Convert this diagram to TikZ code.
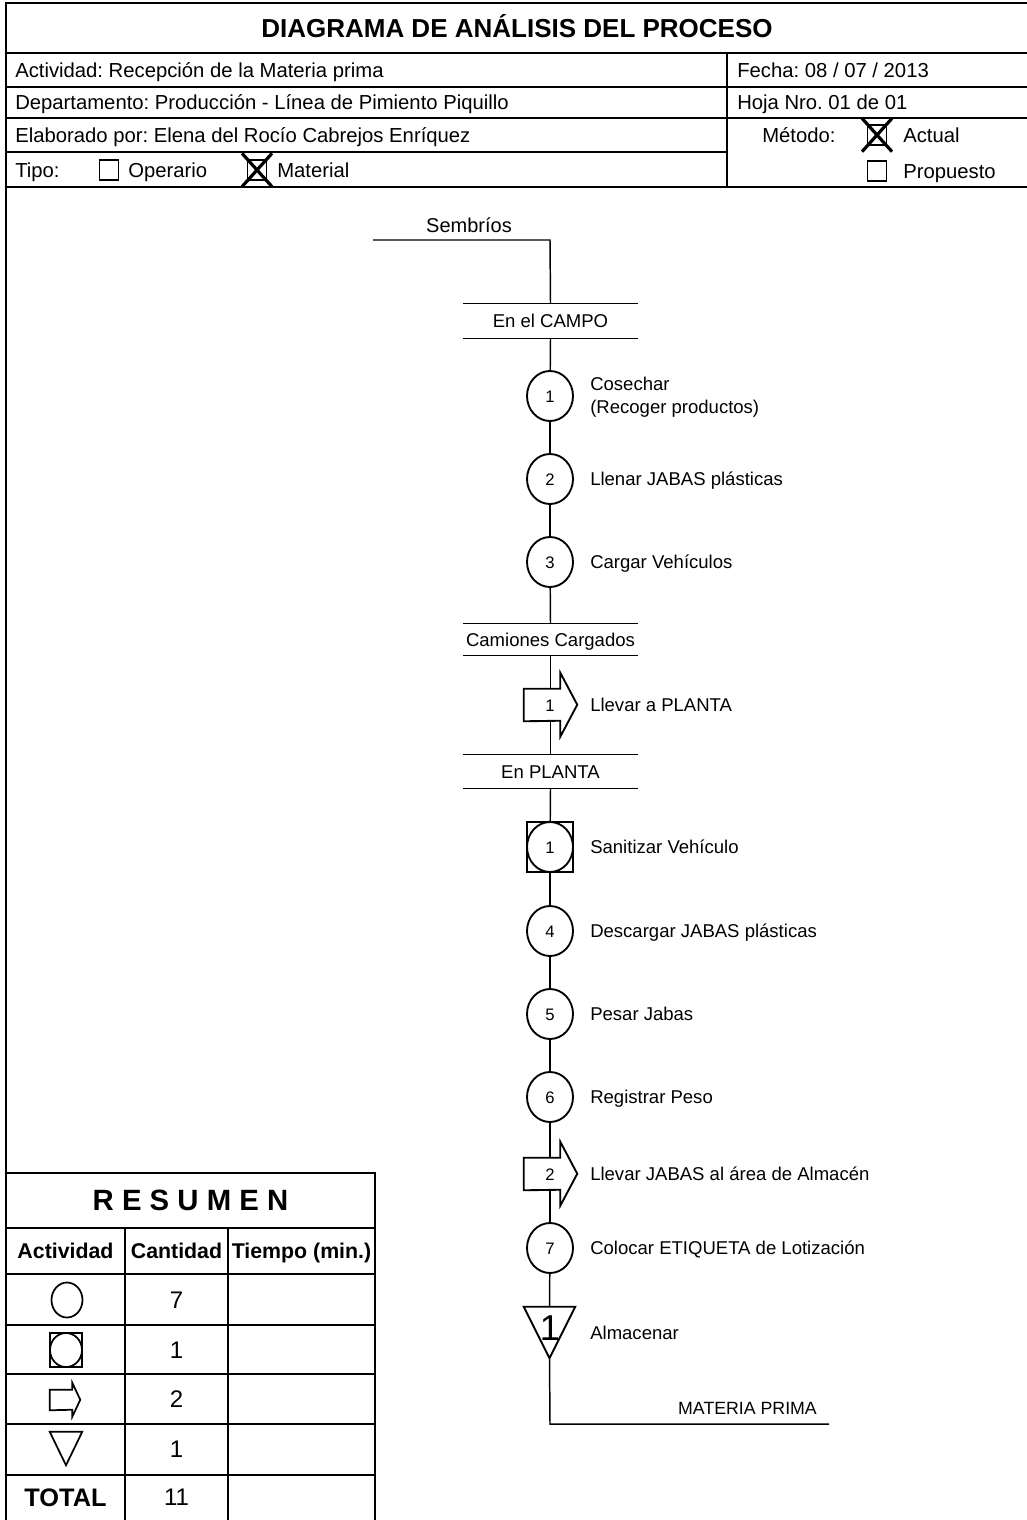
\documentclass[tikz,border=0pt]{standalone}
\usepackage{fontspec}
\setmainfont{Liberation Sans}
\usetikzlibrary{shapes.geometric,backgrounds,calc}
\newcommand\myfs[1]{\fontsize{#1}{#1}\selectfont}
\begin{document}
\frenchspacing
\begin{tikzpicture}[x=0.75pt,y=-0.75pt,
  frame/.style={line width=1.5pt},
  flow/.style={line width=1.1pt},
  sym/.style={line width=1.4pt},
  ctext/.style={anchor=base,inner sep=0pt,font=\myfs{#1},yshift={-0.358*#1pt}},
  hdr/.style={anchor=base west,inner sep=0pt,font=\myfs{15.2},yshift=-5.4pt},
  lbl/.style={anchor=base west,inner sep=0pt,font=\myfs{13.9},yshift=-5pt},
  num/.style={anchor=base,inner sep=0pt,font=\myfs{12.5},yshift=-4.5pt},
  op/.style={ellipse,draw,sym,fill=white,minimum width=34.5pt,minimum height=37.5pt,inner sep=0pt},
  sqbox/.style={rectangle,draw,sym,fill=white,minimum width=34.5pt,minimum height=37.5pt,inner sep=0pt},
  seg/.style={minimum width=131pt,inner sep=0pt},
  chk/.style={rectangle,draw,line width=1pt,minimum width=14pt,minimum height=15pt,inner sep=0pt},
  xmark/.style={line width=2.4pt},
  thead/.style={anchor=base,inner sep=0pt,font=\bfseries\myfs{16},yshift=-5.7pt},
  tnum/.style={ctext=18},
  tsym/.style={line width=1.3pt}
]
\useasboundingbox (0,0) rectangle (1027,1520);

% ---------- header frame ----------
\draw[frame] (1027,3) -- (6,3) -- (6,1520);
\draw[frame] (6,53) -- (1027,53);
\draw[frame] (6,87) -- (1027,87);
\draw[frame] (6,118) -- (1027,118);
\draw[frame] (6,152) -- (727,152);
\draw[frame] (6,187) -- (1027,187);
\draw[frame] (727,53) -- (727,187);

\node[anchor=base,inner sep=0pt,font=\bfseries\myfs{19.5},yshift=-7pt] (title) at (517,28) {DIAGRAMA DE ANÁLISIS DEL PROCESO};
\node[hdr] (act) at (15,70) {Actividad: Recepción de la Materia prima};
\node[hdr] (dep) at (15,102.5) {Departamento: Producción - Línea de Pimiento Piquillo};
\node[hdr] (ela) at (15,135) {Elaborado por: Elena del Rocío Cabrejos Enríquez};
\node[hdr] (tipo) at (15,170) {Tipo:};
\node[chk] (bop) at (109,170) {};
\node[hdr] (oper) at (128,170) {Operario};
\node[chk] (bmat) at (257,170) {};
\draw[xmark] ($(bmat.north west)+(-5,-6)$) -- ($(bmat.south east)+(5,6)$);
\draw[xmark] ($(bmat.north east)+(5,-6)$) -- ($(bmat.south west)+(-5,6)$);
\node[hdr] (mat) at (277,170) {Material};
\node[hdr] (fecha) at (737,70) {Fecha: 08 / 07 / 2013};
\node[hdr] (hoja) at (737,102.5) {Hoja Nro. 01 de 01};
\node[hdr] (met) at (762,135) {Método:};
\node[chk] (bact) at (877,135) {};
\draw[xmark] ($(bact.north west)+(-5,-6)$) -- ($(bact.south east)+(5,6)$);
\draw[xmark] ($(bact.north east)+(5,-6)$) -- ($(bact.south west)+(-5,6)$);
\node[hdr] (actual) at (903,135) {Actual};
\node[chk] (bprop) at (877,171) {};
\node[hdr] (prop) at (903,171) {Propuesto};

% ---------- flow diagram ----------
\coordinate (s0) at (373,240);
\coordinate (s1) at (550,240);
\node[ctext=15] (semb) at (469,225) {Sembríos};

\node[seg,minimum height=25.5pt] (campo) at (550.5,321) {};
\node[ctext=13.9] (campot) at (campo) {En el CAMPO};
\node[op] (c1) at (550,396) {};
\node[num] (c1n) at (c1) {1};
\node[lbl] (l1a) at (590,384) {Cosechar};
\node[lbl] (l1b) at (590,407) {(Recoger productos)};
\node[op] (c2) at (550,479) {};
\node[num] (c2n) at (c2) {2};
\node[lbl] (l2) at (590,479) {Llenar JABAS plásticas};
\node[op] (c3) at (550,562) {};
\node[num] (c3n) at (c3) {3};
\node[lbl] (l3) at (590,562) {Cargar Vehículos};

\node[seg,minimum height=23.25pt] (cam) at (550.5,639.5) {};
\node[ctext=13.9] (camt) at (cam) {Camiones Cargados};
\node[minimum width=27pt,minimum height=24pt,inner sep=0pt] (a1) at (542,705) {};
\node[lbl] (la1) at (590,705) {Llevar a PLANTA};

\node[seg,minimum height=24.75pt] (planta) at (550.5,771.5) {};
\node[ctext=13.9] (plantat) at (planta) {En PLANTA};
\node[sqbox] (sq) at (550,847) {};
\node[op] (sqc) at (550,847) {};
\node[num] (sqn) at (sqc) {1};
\node[lbl] (lsq) at (590,847) {Sanitizar Vehículo};
\node[op] (c4) at (550,931) {};
\node[num] (c4n) at (c4) {4};
\node[lbl] (l4) at (590,931) {Descargar JABAS plásticas};
\node[op] (c5) at (550,1014) {};
\node[num] (c5n) at (c5) {5};
\node[lbl] (l5) at (590,1014) {Pesar Jabas};
\node[op] (c6) at (550,1097) {};
\node[num] (c6n) at (c6) {6};
\node[lbl] (l6) at (590,1097) {Registrar Peso};
\node[minimum width=27pt,minimum height=24pt,inner sep=0pt] (a2) at (542,1174) {};
\node[lbl] (la2) at (590,1174) {Llevar JABAS al área de Almacén};
\node[op] (c7) at (550,1248) {};
\node[num] (c7n) at (c7) {7};
\node[lbl] (l7) at (590,1248) {Colocar ETIQUETA de Lotización};
\node[minimum width=38.25pt,minimum height=38.25pt,inner sep=0pt] (tri) at (549.5,1332.5) {};
\node[lbl] (ltri) at (590,1333) {Almacenar};
\coordinate (mp0) at (550,1424);
\coordinate (mp1) at (829,1424);
\node[ctext=13.3] (mptext) at (747.5,1408) {MATERIA PRIMA};

\begin{pgfonlayer}{background}
\draw[flow] (s0) -- (s1) -- (campo.north);
\draw[flow] (campo.north west) -- (campo.north east);
\draw[flow] (campo.south west) -- (campo.south east);
\draw[flow] (campo.south) -- (c1);
\draw[flow] (c1) -- (c2);
\draw[flow] (c2) -- (c3);
\draw[flow] (c3) -- (cam.north);
\draw[flow] (cam.north west) -- (cam.north east);
\draw[flow] (cam.south west) -- (cam.south east);
\draw[flow] (cam.south) -- (cam.south |- a1.north);
\draw[flow] (planta.north |- a1.south) -- (planta.north);
\draw[flow] (planta.north west) -- (planta.north east);
\draw[flow] (planta.south west) -- (planta.south east);
\draw[flow] (planta.south) -- (sq);
\draw[flow] (sq) -- (c4);
\draw[flow] (c4) -- (c5);
\draw[flow] (c5) -- (c6);
\draw[flow] (c6) -- (c6.south |- a2.north);
\draw[flow] (c7.north |- a2.south) -- (c7);
\draw[flow] (c7) -- (tri.north);
\draw[flow] (tri.south) -- (mp0) -- (mp1);
% arrow symbols and triangle
\draw[sym,fill=white] (a1.north west) -- (a1.north east) -- ++(0,-16) -- ++(17,32) -- ++(-17,32) -- ++(0,-16) -- (a1.south west) -- cycle;
\draw[sym,fill=white] (a2.north west) -- (a2.north east) -- ++(0,-16) -- ++(17,32) -- ++(-17,32) -- ++(0,-16) -- (a2.south west) -- cycle;
\draw[sym,fill=white] (tri.north west) -- (tri.north east) -- (tri.south) -- cycle;
\end{pgfonlayer}
\node[num] (a1n) at (550,705) {1};
\node[num] (a2n) at (550,1174) {2};
\node[ctext=27] (trin) at (550,1328) {1};

% ---------- summary table ----------
\draw[frame] (6,1173) -- (375,1173) -- (375,1520);
\foreach \yy in {1228,1274,1325,1374,1424,1475} \draw[frame] (6,\yy) -- (375,\yy);
\draw[frame] (125,1228) -- (125,1520);
\draw[frame] (228,1228) -- (228,1520);
\node[anchor=base,inner sep=0pt,font=\bfseries\myfs{22},yshift=-7.9pt] (res) at (190.5,1200) {R E S U M E N};
\node[thead] (hact) at (65.5,1251) {Actividad};
\node[thead] (hcan) at (176.5,1251) {Cantidad};
\node[thead] (htie) at (301.5,1251) {Tiempo (min.)};

\node[ellipse,draw,tsym,minimum width=23.25pt,minimum height=26.25pt,inner sep=0pt] (tc) at (67,1300) {};
\node[rectangle,draw,tsym,minimum width=24pt,minimum height=25.5pt,inner sep=0pt] (tsq) at (66,1350) {};
\node[ellipse,draw,tsym,minimum width=24pt,minimum height=25.5pt,inner sep=0pt] (tsqc) at (66,1350) {};
\node[minimum width=16.5pt,minimum height=15pt,inner sep=0pt] (tar) at (61,1400) {};
\draw[tsym] (tar.north west) -- (tar.north east) -- ++(0,-7) -- ++(8,17) -- ++(-8,17) -- ++(0,-7) -- (tar.south west) -- cycle;
\node[minimum width=24pt,minimum height=24.75pt,inner sep=0pt] (ttri) at (66,1448.5) {};
\draw[tsym] (ttri.north west) -- (ttri.north east) -- (ttri.south) -- cycle;

\node[tnum] (n1) at (176.5,1300) {7};
\node[tnum] (n2) at (176.5,1350) {1};
\node[tnum] (n3) at (176.5,1399) {2};
\node[tnum] (n4) at (176.5,1449) {1};
\node[anchor=base,inner sep=0pt,font=\bfseries\myfs{19},yshift=-6.8pt] (tot) at (65.5,1497) {TOTAL};
\node[tnum] (n5) at (176.5,1497) {11};
\end{tikzpicture}
\end{document}
